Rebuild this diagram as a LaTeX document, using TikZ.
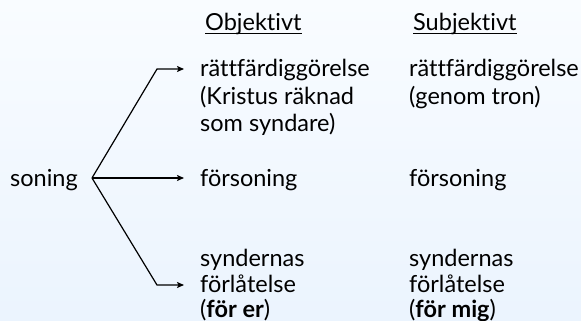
\documentclass[tikz,border=0pt]{standalone}
\usepackage{fontspec}
\setmainfont{Lato}[Ligatures={NoCommon,NoRare}]
\usetikzlibrary{arrows.meta}
\definecolor{bgtop}{RGB}{249,252,255}
\definecolor{bgbot}{RGB}{235,244,254}
\begin{document}
\begin{tikzpicture}[x=1pt,y=-1pt,
  txt/.style={anchor=base west,inner sep=0pt,font=\fontsize{23.5}{27}\selectfont},
  conn/.style={line width=1.2pt,-{Stealth[length=7pt,width=6pt,inset=1.5pt]}},
  uline/.style={line width=0.9pt}]
\shade[top color=bgtop,bottom color=bgbot] (0,0) rectangle (581,321);
\useasboundingbox (0,0) rectangle (581,321);
% headers
\node[txt] (hobj) at (205,31) {Objektivt};
\node[txt] (hsub) at (413,31) {Subjektivt};
\draw[uline] ([yshift=-2.5pt]hobj.base west) -- ([yshift=-2.5pt]hobj.base east);
\draw[uline] ([yshift=-2.5pt]hsub.base west) -- ([yshift=-2.5pt]hsub.base east);
% left
\node[txt] (soning) at (10,186) {soning};
% column 1
\node[txt] (a1) at (200,77) {rättfärdiggörelse};
\node[txt] (a2) at (200,104) {(Kristus räknad};
\node[txt] (a3) at (200,131) {som syndare)};
\node[txt] (b1) at (200,186) {försoning};
\node[txt] (c1) at (200,266) {syndernas};
\node[txt] (c2) at (200,292) {förlåtelse};
\node[txt] (c3) at (200,317) {(\textbf{för er})};
% column 2
\node[txt] (d1) at (409,77) {rättfärdiggörelse};
\node[txt] (d2) at (409,104) {(genom tron)};
\node[txt] (e1) at (409,186) {försoning};
\node[txt] (f1) at (409,266) {syndernas};
\node[txt] (f2) at (409,292) {förlåtelse};
\node[txt] (f3) at (409,317) {(\textbf{för mig})};
% connectors
\coordinate (fork) at (92,178);
\coordinate (bendA) at (157,69);
\coordinate (bendC) at (157,285);
\coordinate (tipA) at (184,69);
\coordinate (tipB) at (184,178);
\coordinate (tipC) at (184,285);
\draw[conn] (fork) -- (bendA) -- (tipA);
\draw[conn] (fork) -- (tipB);
\draw[conn] (fork) -- (bendC) -- (tipC);
\end{tikzpicture}
\end{document}
